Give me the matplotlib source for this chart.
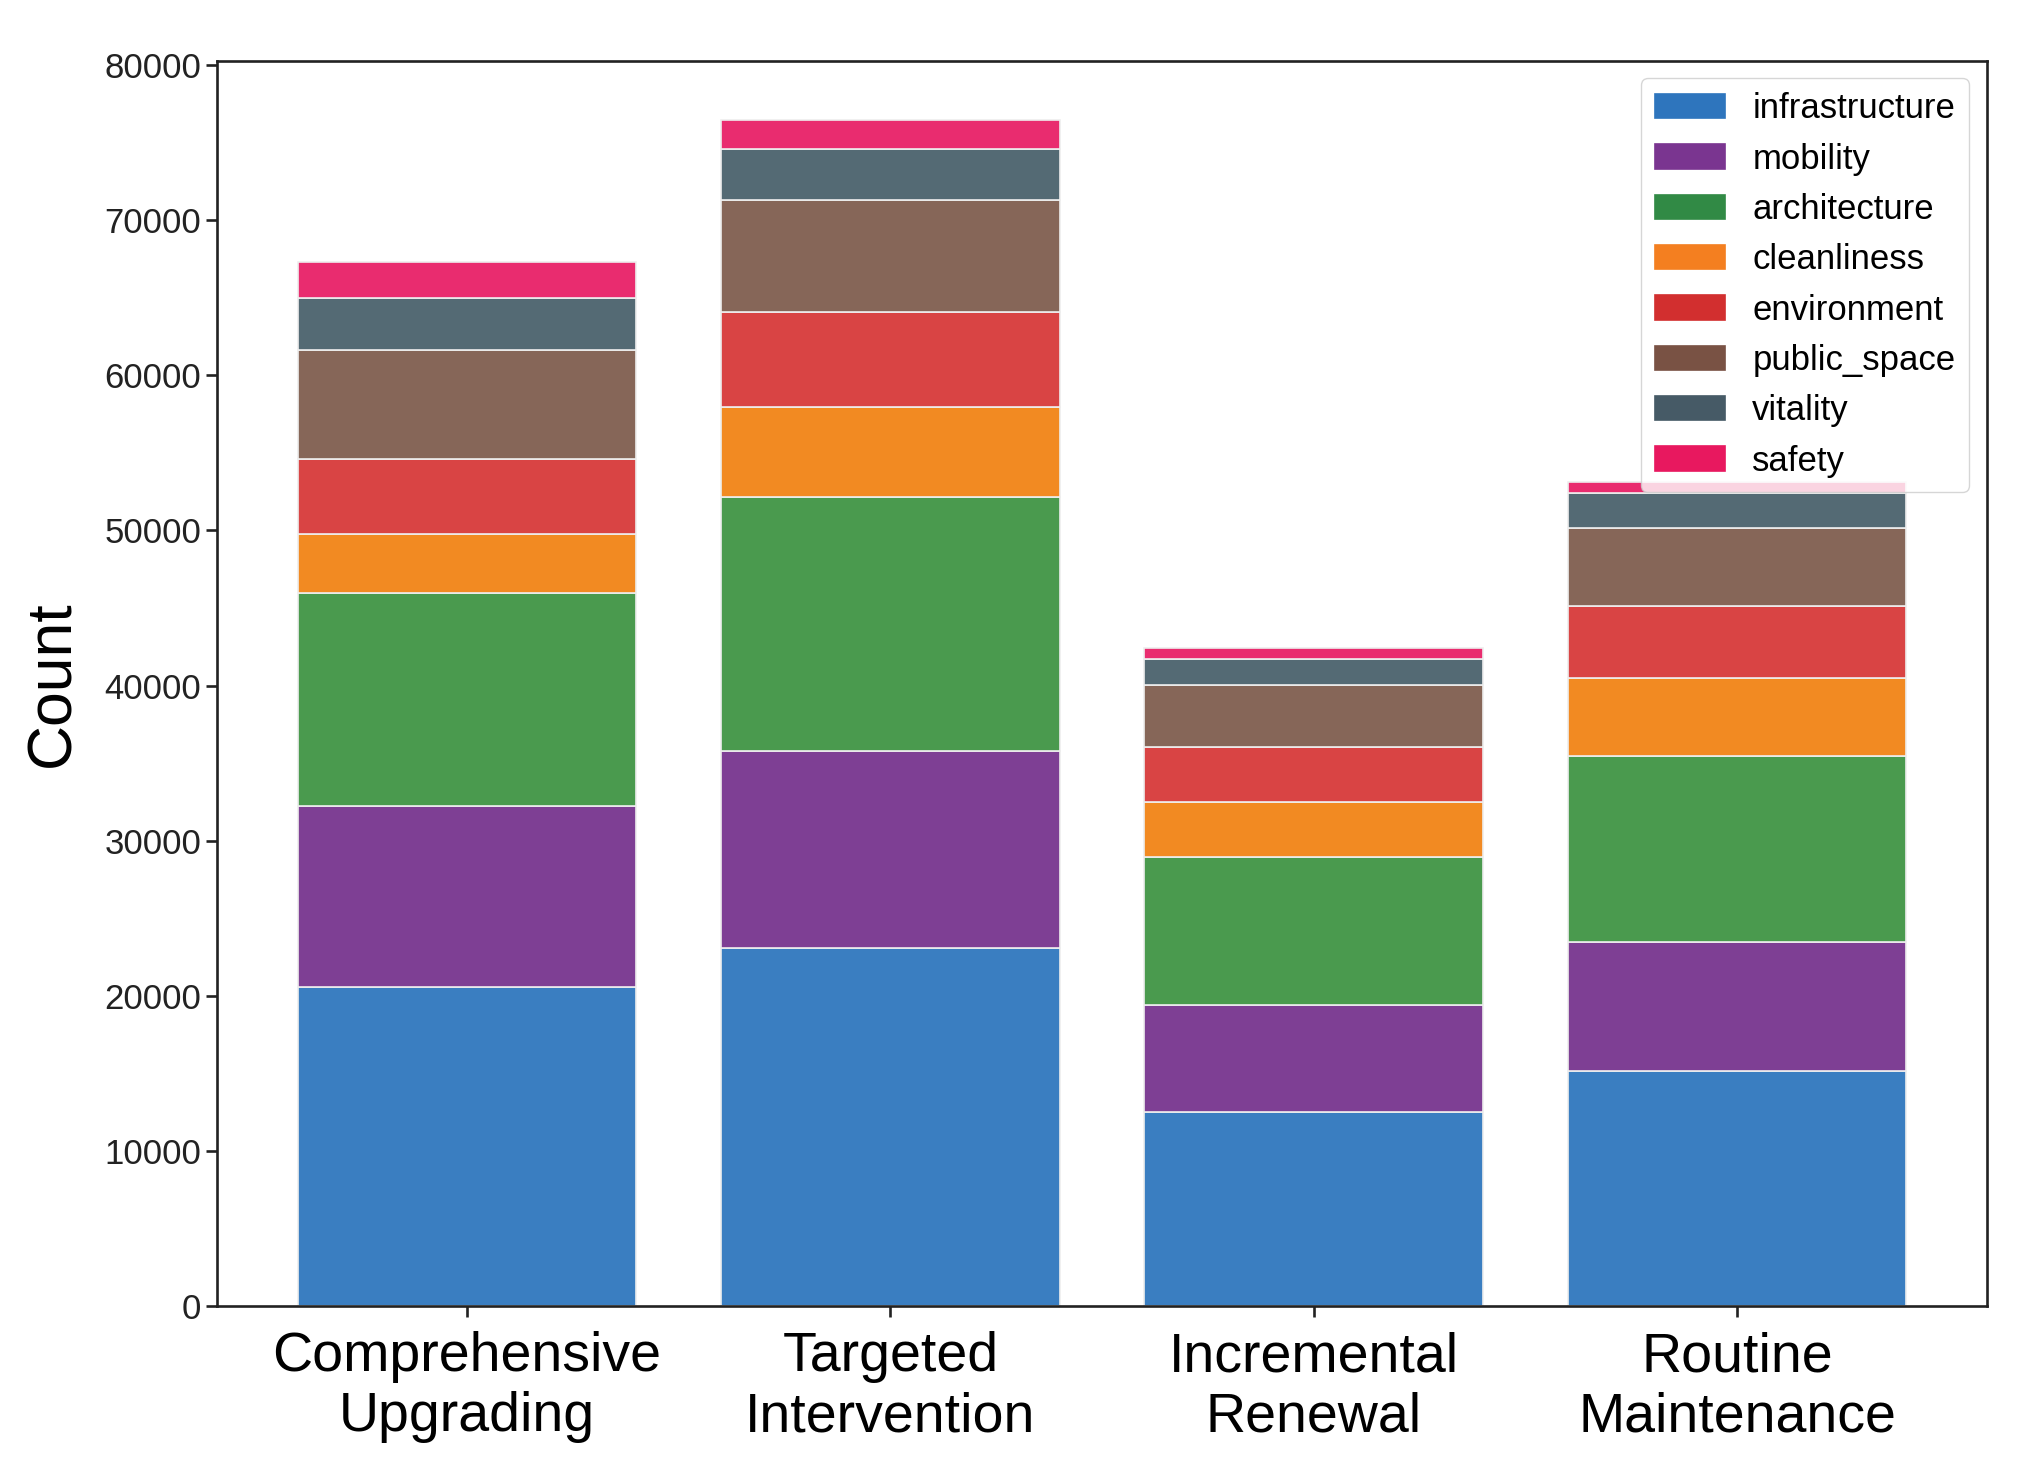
import matplotlib
matplotlib.use("Agg")
import matplotlib.pyplot as plt
import numpy as np

plt.rcParams['font.family'] = ['Liberation Sans', 'DejaVu Sans']

categories = ["Comprehensive\nUpgrading", "Targeted\nIntervention", "Incremental\nRenewal", "Routine\nMaintenance"]
series_names = ["infrastructure", "mobility", "architecture", "cleanliness",
                "environment", "public_space", "vitality", "safety"]

infrastructure = [20560, 23050, 12520, 15170]
mobility       = [11690, 12760, 6880, 8290]
architecture   = [13680, 16330, 9530, 12020]
cleanliness    = [3810, 5810, 3570, 4980]
environment    = [4890, 6130, 3560, 4640]
public_space   = [6970, 7210, 3980, 5050]
vitality       = [3400, 3320, 1660, 2240]
safety         = [2310, 1820, 740, 750]

values = [infrastructure, mobility, architecture, cleanliness,
          environment, public_space, vitality, safety]
bar_colors = ["#3A7EC1", "#7E3F94", "#4A9A4E", "#F28A22",
              "#D94444", "#866658", "#546A74", "#E92C6F"]
legend_colors = ["#2E75BD", "#7A3590", "#318A45", "#F47F20",
                 "#D22F2F", "#795244", "#465A66", "#E8185F"]

fig = plt.figure(figsize=(20.17, 14.70), dpi=100)
ax = fig.add_axes([0.1077, 0.1115, 0.8773, 0.847])

x = np.arange(len(categories))
bottom = np.zeros(len(categories))
for name, vals, c in zip(series_names, values, bar_colors):
    ax.bar(x, vals, width=0.8, bottom=bottom, color=c,
           edgecolor="#EEEEEE", linewidth=1.2, label=name)
    bottom += np.array(vals)

ax.set_xticks(x)
ax.set_xticklabels(categories, fontsize=40, linespacing=1.2)
ax.tick_params(axis='y', labelsize=25, length=8, width=1.9, colors="#222222")
ax.tick_params(axis='x', length=8, width=1.9, pad=10, colors="#222222", labelcolor="black")
ax.set_ylabel("Count", fontsize=45, labelpad=16)
for s in ax.spines.values():
    s.set_linewidth(1.9)
    s.set_color("#222222")

leg = ax.legend(loc="upper right", fontsize=25, framealpha=0.8)
for h, c in zip(leg.legend_handles, legend_colors):
    h.set_facecolor(c)
    h.set_edgecolor(c)

fig.savefig("out.png", dpi=100)
